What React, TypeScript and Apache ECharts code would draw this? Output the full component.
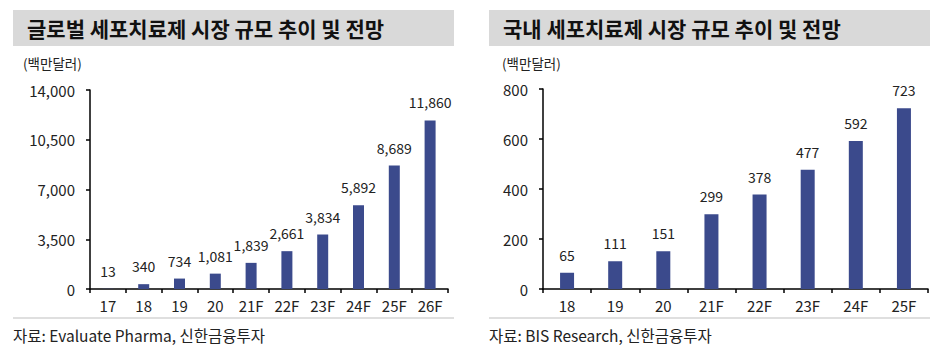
import React, { useEffect, useRef } from "react";
import * as echarts from "echarts";

const globalCategories = ["17", "18", "19", "20", "21F", "22F", "23F", "24F", "25F", "26F"];
const globalValues = [13, 340, 734, 1081, 1839, 2661, 3834, 5892, 8689, 11860];
const globalTicks = { min: 0, max: 14000, interval: 3500 };

const domesticCategories = ["18", "19", "20", "21F", "22F", "23F", "24F", "25F"];
const domesticValues = [65, 111, 151, 299, 378, 477, 592, 723];
const domesticTicks = { min: 0, max: 800, interval: 200 };

const FONT = "'Noto Sans CJK KR', 'Noto Sans', sans-serif";
const BAR = "#3b4a8c";

const fmt = (v: number) => v.toLocaleString("en-US");

export default function App() {
  const ref = useRef<HTMLDivElement>(null);
  useEffect(() => {
    if (!ref.current) return;
    const chart = echarts.init(ref.current, undefined, { renderer: "svg" });
    const xAxisCommon = (idx: number, data: string[]) => ({
      type: "category" as const,
      gridIndex: idx,
      data,
      axisLine: { lineStyle: { color: "#000", width: 1.5 } },
      axisTick: { show: true, length: 4, lineStyle: { color: "#000", width: 1.5 }, alignWithLabel: false },
      axisLabel: { color: "#222", fontSize: 15, fontFamily: FONT, margin: 9 },
    });
    const yAxisCommon = (idx: number, t: { min: number; max: number; interval: number }) => ({
      type: "value" as const,
      gridIndex: idx,
      min: t.min,
      max: t.max,
      interval: t.interval,
      splitLine: { show: false },
      axisLine: { show: true, lineStyle: { color: "#000", width: 1.5 } },
      axisTick: { show: true, length: 4, lineStyle: { color: "#000", width: 1.5 } },
      axisLabel: { color: "#222", fontSize: 15, fontFamily: FONT, margin: 15, formatter: (v: number) => fmt(v) },
    });
    const labelCfg = {
      show: true,
      position: "top" as const,
      distance: 11,
      color: "#222",
      fontSize: 14,
      fontFamily: FONT,
      formatter: (p: any) => fmt(p.value),
    };
    chart.setOption({
      animation: false,
      backgroundColor: "#fff",
      grid: [
        { left: 90, top: 90, right: 504, bottom: 69 },
        { left: 543, top: 89, right: 24, bottom: 69 },
      ],
      xAxis: [xAxisCommon(0, globalCategories), xAxisCommon(1, domesticCategories)],
      yAxis: [yAxisCommon(0, globalTicks), yAxisCommon(1, domesticTicks)],
      series: [
        {
          type: "bar",
          xAxisIndex: 0,
          yAxisIndex: 0,
          data: globalValues,
          barWidth: 11,
          itemStyle: { color: BAR },
          label: labelCfg,
        },
        {
          type: "bar",
          xAxisIndex: 1,
          yAxisIndex: 1,
          data: domesticValues,
          barWidth: 14,
          itemStyle: { color: BAR },
          label: labelCfg,
        },
      ],
      graphic: [
        { type: "rect", shape: { x: 13, y: 10, width: 441, height: 36 }, style: { fill: "#d9d9d9" }, silent: true },
        { type: "rect", shape: { x: 489, y: 10, width: 441, height: 36 }, style: { fill: "#d9d9d9" }, silent: true },
        {
          type: "text", x: 27, y: 28,
          style: { text: "글로벌 세포치료제 시장 규모 추이 및 전망", fill: "#111", font: `bold 21px ${FONT}`, textVerticalAlign: "middle" },
        },
        {
          type: "text", x: 503, y: 28,
          style: { text: "국내 세포치료제 시장 규모 추이 및 전망", fill: "#111", font: `bold 21px ${FONT}`, textVerticalAlign: "middle" },
        },
        {
          type: "text", x: 23, y: 63,
          style: { text: "(백만달러)", fill: "#222", font: `13.5px ${FONT}`, textVerticalAlign: "middle" },
        },
        {
          type: "text", x: 502, y: 63,
          style: { text: "(백만달러)", fill: "#222", font: `13.5px ${FONT}`, textVerticalAlign: "middle" },
        },
        { type: "line", shape: { x1: 13, y1: 318, x2: 454, y2: 318 }, style: { stroke: "#bfbfbf", lineWidth: 1 } },
        { type: "line", shape: { x1: 489, y1: 318, x2: 930, y2: 318 }, style: { stroke: "#bfbfbf", lineWidth: 1 } },
        {
          type: "text", x: 13, y: 335,
          style: { text: "자료: Evaluate Pharma, 신한금융투자", fill: "#222", font: `15.5px ${FONT}`, textVerticalAlign: "middle" },
        },
        {
          type: "text", x: 489, y: 335,
          style: { text: "자료: BIS Research, 신한금융투자", fill: "#222", font: `15.5px ${FONT}`, textVerticalAlign: "middle" },
        },
      ],
    });
    return () => chart.dispose();
  }, []);
  return <div ref={ref} style={{ position: "fixed", left: 0, top: 0, width: 952, height: 358 }} />;
}
